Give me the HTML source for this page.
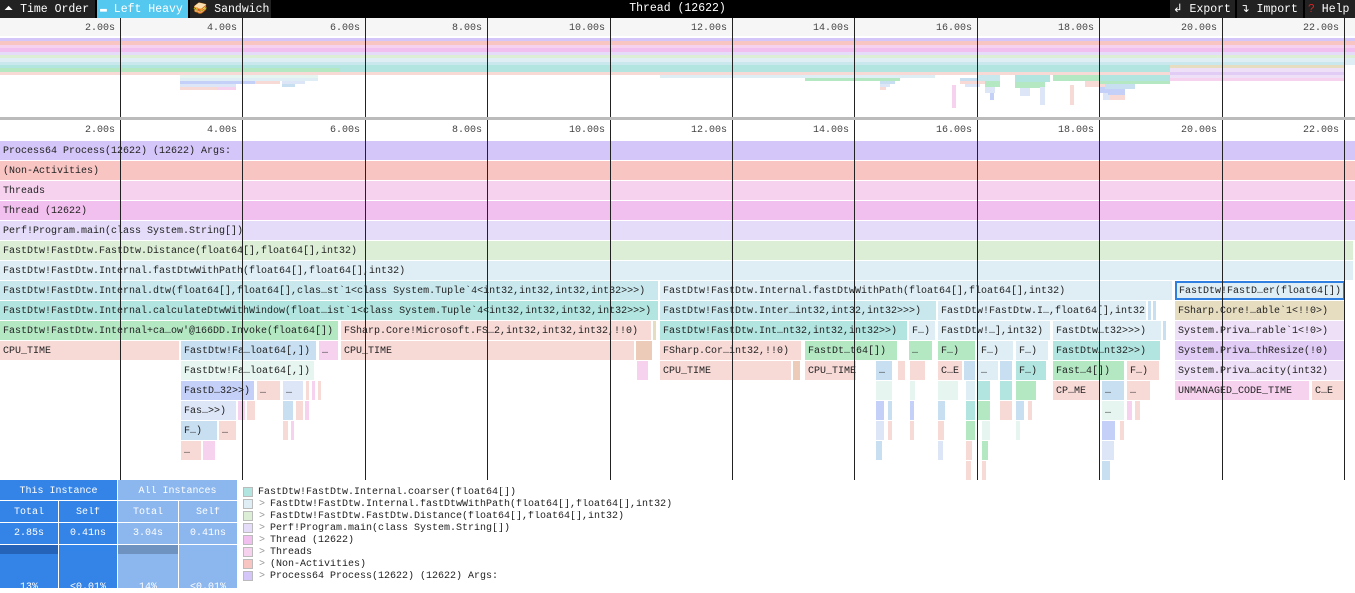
<!DOCTYPE html>
<html><head><meta charset="utf-8">
<style>
*{margin:0;padding:0;box-sizing:border-box}
body{width:1355px;height:588px;overflow:hidden;background:#fff;font-family:"Liberation Mono",monospace;font-size:10px;position:relative}
.a{position:absolute;white-space:nowrap;overflow:hidden}
.r{position:absolute;height:19px;line-height:22px;padding-left:3px;color:#222;white-space:nowrap;overflow:hidden}
.m{position:absolute}
.vl{position:absolute;width:1px;background:#222}
.tl{position:absolute;color:#444;text-align:right;width:60px}
.tab{position:absolute;top:0;height:18px;line-height:20px;color:#fff;font-size:11.5px;background:#222}
</style></head><body>
<div class="a" style="left:0;top:0;width:1355px;height:18px;background:#000"></div>
<div class="tab" style="left:0;width:95px;padding-left:4px">⏶ Time Order</div>
<div class="tab" style="left:97px;width:91px;background:#55c8f0;padding-left:3px">▬ Left Heavy</div>
<div class="tab" style="left:190px;width:81px;padding-left:3px">🥪 Sandwich</div>
<div class="a" style="left:0;top:0;width:1355px;text-align:center;color:#fff;font-size:11.5px;line-height:18px">Thread (12622)</div>
<div class="tab" style="left:1170px;width:65px;padding-left:3px">↲ Export</div>
<div class="tab" style="left:1237px;width:66px;padding-left:3px">↴ Import</div>
<div class="tab" style="left:1305px;width:50px;padding-left:3px"><span style="color:#d22">?</span> Help</div>
<div class="a" style="left:0;top:18px;width:1355px;height:18px;background:#f6f6f6"></div>
<div class="a" style="left:0;top:117px;width:1355px;height:3px;background:#bbb"></div>
<div id="c"></div>
<div class="a" style="left:0;top:480px;width:118px;height:108px;background:#3483e6"></div>
<div class="a" style="left:118px;top:480px;width:120px;height:108px;background:#8cb6ee"></div>
<div class="a" style="left:0;top:544px;width:58px;height:10px;background:#2463b8"></div>
<div class="a" style="left:118px;top:544px;width:60px;height:10px;background:#6f93c0"></div>
<div class="a" style="left:0;top:500px;width:238px;height:1px;background:#fff"></div>
<div class="a" style="left:0;top:522px;width:238px;height:1px;background:#fff"></div>
<div class="a" style="left:0;top:544px;width:238px;height:1px;background:#fff"></div>
<div class="a" style="left:117px;top:480px;width:1px;height:108px;background:#fff"></div>
<div class="a" style="left:58px;top:500px;width:1px;height:88px;background:#fff"></div>
<div class="a" style="left:178px;top:500px;width:1px;height:88px;background:#fff"></div>
<div class="a" style="left:237px;top:480px;width:1px;height:108px;background:#fff"></div>
<div id="b"></div>
<script>
var c=document.getElementById('c'),h='';
function R(x1,x2,row,col,t,extra){var y=141+row*20;h+='<div class="r" style="left:'+x1+'px;top:'+y+'px;width:'+(x2-x1)+'px;background:'+col+';'+(extra||'')+'">'+(t||'')+'</div>';}
function M(x1,x2,y1,y2,col){h+='<div class="m" style="left:'+x1+'px;top:'+y1+'px;width:'+(x2-x1)+'px;height:'+(y2-y1)+'px;background:'+col+'"></div>';}
var P='#d4c6f8',NA='#f8c5c3',TS='#f6d2ee',TH='#f2c0ee',PF='#e4dcf8',DI='#dcefd6',FP='#dfeef5',DT='#c9e8ee',CA='#b2e5e0',IN='#b3e8c3',CP='#f7d9d6',BL='#c8dff2',LV='#c4d0f7',LB='#dde6f7',WT='#e6f5f0',TN='#e6dcc0',PL='#ede0f7',PU='#e0ccf5',OR='#eccbb8';
var mb=[P,NA,TS,TH,PF,DI,FP];var y=38;
for(var i=0;i<mb.length;i++){M(0,1355,y,y+3.4,mb[i]);y+=3.4;}
M(0,1355,61.8,65,FP);M(0,1170,61.8,65,DT);M(0,1170,65,68.4,CA);M(0,340,68.4,71.6,IN);M(340,1170,68.4,71.6,CA);M(0,1170,71.6,75,CP);
M(1170,1345,61.8,65,DT);M(1170,1345,65,68.4,TN);M(1170,1345,68.4,71.6,PL);M(1170,1345,71.6,75,PU);M(1170,1345,75,78,PL);M(1170,1345,78,81,TS);
M(180,318,75,78,WT);M(180,318,78,81,FP);M(180,255,81,84,LV);M(255,280,81,84,CP);M(180,236,84,87,LB);M(180,217,87,90,CP);M(217,236,87,90,TS);
M(282,305,81,84,LB);M(282,295,84,87,BL);
M(660,935,75,78,FP);M(805,900,78,81,IN);M(880,895,81,84,BL);M(880,890,84,87,LB);M(880,886,87,90,CP);M(960,985,78,81,BL);M(960,985,81,84,CP);M(965,980,84,87,LB);
M(977,1000,75,81,DT);M(985,1000,81,87,IN);M(985,995,87,93,LB);M(990,994,93,100,LV);
M(1015,1050,75,82,CA);M(1015,1045,82,88,IN);M(1020,1030,88,96,LB);
M(1053,1125,75,81,IN);M(1085,1105,81,87,CP);M(1100,1115,87,93,LV);M(1103,1110,93,100,LB);
M(1100,1170,75,81,CA);M(1100,1170,81,84,IN);
M(1105,1135,84,89,BL);M(1108,1125,89,95,LV);M(1110,1125,95,100,CP);
M(1040,1045,87,105,LB);M(1070,1074,85,105,CP);M(952,956,85,108,TS);
R(0,1355,0,P,'Process64 Process(12622) (12622) Args:');
R(0,1355,1,NA,'(Non-Activities)');
R(0,1355,2,TS,'Threads');
R(0,1355,3,TH,'Thread (12622)');
R(0,1355,4,PF,'Perf!Program.main(class System.String[])');
R(0,1353,5,DI,'FastDtw!FastDtw.FastDtw.Distance(float64[],float64[],int32)');
R(0,1353,6,FP,'FastDtw!FastDtw.Internal.fastDtwWithPath(float64[],float64[],int32)');
R(0,658,7,DT,'FastDtw!FastDtw.Internal.dtw(float64[],float64[],clas…st`1&lt;class System.Tuple`4&lt;int32,int32,int32,int32&gt;&gt;&gt;)');
R(660,1172,7,FP,'FastDtw!FastDtw.Internal.fastDtwWithPath(float64[],float64[],int32)');
R(1175,1345,7,FP,'FastDtw!FastD…er(float64[])','border:2px solid #2f7fe0;line-height:18px;padding-left:2px');
R(0,658,8,CA,'FastDtw!FastDtw.Internal.calculateDtwWithWindow(float…ist`1&lt;class System.Tuple`4&lt;int32,int32,int32,int32&gt;&gt;&gt;)');
R(660,936,8,DT,'FastDtw!FastDtw.Inter…int32,int32,int32&gt;&gt;&gt;)');
R(938,1146,8,FP,'FastDtw!FastDtw.I…,float64[],int32)');
R(1148,1151,8,BL);R(1153,1156,8,BL);
R(1175,1345,8,TN,'FSharp.Core!…able`1&lt;!!0&gt;)');
R(0,338,9,IN,'FastDtw!FastDtw.Internal+ca…ow\'@166DD.Invoke(float64[])');
R(341,651,9,CP,'FSharp.Core!Microsoft.FS…2,int32,int32,int32,!!0)');
R(653,655,9,TN);
R(660,907,9,CA,'FastDtw!FastDtw.Int…nt32,int32,int32&gt;&gt;)');
R(909,935,9,FP,'F…)');
R(938,1050,9,FP,'FastDtw!…],int32)');
R(1053,1161,9,FP,'FastDtw…t32&gt;&gt;&gt;)');
R(1163,1166,9,BL);
R(1175,1345,9,PL,'System.Priva…rable`1&lt;!0&gt;)');
R(0,179,10,CP,'CPU_TIME');
R(181,316,10,BL,'FastDtw!Fa…loat64[,])');
R(319,338,10,TS,'…');
R(341,634,10,CP,'CPU_TIME');
R(636,652,10,OR);
R(660,801,10,CP,'FSharp.Cor…int32,!!0)');
R(805,897,10,IN,'FastDt…t64[])');
R(909,932,10,IN,'…');
R(938,975,10,IN,'F…)');
R(978,1013,10,FP,'F…)');
R(1016,1048,10,FP,'F…)');
R(1053,1160,10,CA,'FastDtw…nt32&gt;&gt;)');
R(1175,1345,10,PU,'System.Priva…thResize(!0)');
R(181,314,11,WT,'FastDtw!Fa…loat64[,])');
R(637,648,11,TS);
R(660,791,11,CP,'CPU_TIME');R(793,800,11,OR);
R(805,856,11,CP,'CPU_TIME');
R(876,892,11,BL,'…');R(898,905,11,CP);
R(910,925,11,CP);R(938,962,11,CP,'C…E');R(964,975,11,BL);
R(978,998,11,FP,'…');R(1000,1012,11,BL);
R(1016,1046,11,CA,'F…)');
R(1053,1124,11,IN,'Fast…4[])');
R(1127,1159,11,CP,'F…)');
R(1175,1345,11,PL,'System.Priva…acity(int32)');
R(181,254,12,LV,'FastD…32&gt;&gt;)');
R(257,280,12,CP,'…');
R(283,303,12,LB,'…');R(306,309,12,CP);R(312,315,12,TS);R(318,320,12,CP);
R(876,892,12,WT);R(910,915,12,WT);R(938,958,12,WT);R(966,975,12,FP);R(978,990,12,CA);R(1000,1012,12,CA);R(1016,1036,12,IN);
R(1053,1100,12,CP,'CP…ME');
R(1102,1124,12,BL,'…');
R(1127,1150,12,CP,'…');
R(1175,1309,12,TS,'UNMANAGED_CODE_TIME');
R(1312,1345,12,CP,'C…E');
R(181,236,13,LB,'Fas…&gt;&gt;)');R(238,245,13,TS);R(247,255,13,CP);
R(283,293,13,BL);R(296,303,13,CP);R(305,309,13,TS);
R(876,884,13,LV);R(888,892,13,BL);R(910,914,13,LV);R(938,945,13,BL);R(966,975,13,CA);R(978,990,13,IN);R(1000,1012,13,CP);R(1016,1024,13,BL);R(1028,1032,13,CP);
R(1102,1124,13,WT,'…');R(1127,1132,13,TS);R(1135,1140,13,CP);
R(181,217,14,BL,'F…)');R(219,236,14,CP,'…');R(283,288,14,CP);R(291,294,14,TS);
R(876,884,14,LB);R(888,892,14,CP);R(910,914,14,CP);R(938,944,14,CP);R(966,975,14,IN);R(982,990,14,WT);R(1016,1020,14,WT);R(1102,1115,14,LV);R(1120,1124,14,CP);
R(181,201,15,CP,'…');R(203,215,15,TS);
R(876,882,15,BL);R(938,943,15,LB);R(966,972,15,CP);R(982,988,15,IN);R(1102,1114,15,LB);
R(966,971,16,CP);R(982,986,16,CP);R(1102,1110,16,BL);
var gx=[120,242,365,487,610,732,854,977,1099,1222,1344],lab=['2.00s','4.00s','6.00s','8.00s','10.00s','12.00s','14.00s','16.00s','18.00s','20.00s','22.00s'];
for(var i=0;i<gx.length;i++){
 h+='<div class="vl" style="left:'+gx[i]+'px;top:18px;height:99px"></div>';
 h+='<div class="vl" style="left:'+gx[i]+'px;top:120px;height:360px"></div>';
 h+='<div class="tl" style="left:'+(gx[i]-65)+'px;top:23px">'+lab[i]+'</div>';
 h+='<div class="tl" style="left:'+(gx[i]-65)+'px;top:125px">'+lab[i]+'</div>';
}
c.innerHTML=h;
var b='',W='color:#fff;text-align:center;';
function T(x,w,y,t,s){b+='<div class="a" style="'+W+'left:'+x+'px;width:'+w+'px;top:'+y+'px;'+(s||'')+'">'+t+'</div>';}
T(0,117,486,'This Instance');T(118,119,486,'All Instances');
T(0,58,507,'Total');T(59,58,507,'Self');T(118,60,507,'Total');T(179,58,507,'Self');
T(0,58,528,'2.85s');T(59,58,528,'0.41ns');T(118,60,528,'3.04s');T(179,58,528,'0.41ns');
T(0,58,582,'13%');T(59,58,582,'&lt;0.01%');T(118,60,582,'14%');T(179,58,582,'&lt;0.01%');
var L=[[CA,'FastDtw!FastDtw.Internal.coarser(float64[])',0],[FP,'FastDtw!FastDtw.Internal.fastDtwWithPath(float64[],float64[],int32)',1],[DI,'FastDtw!FastDtw.FastDtw.Distance(float64[],float64[],int32)',1],[PF,'Perf!Program.main(class System.String[])',1],[TH,'Thread (12622)',1],[TS,'Threads',1],[NA,'(Non-Activities)',1],[P,'Process64 Process(12622) (12622) Args:',1]];
for(var i=0;i<L.length;i++){var y=487+i*12;
 b+='<div class="a" style="left:243px;top:'+y+'px;width:10px;height:10px;background:'+L[i][0]+';border:1px solid #bbb"></div>';
 if(L[i][2])b+='<div class="a" style="left:259px;top:'+(y)+'px;color:#999">&gt;</div>';
 b+='<div class="a" style="left:'+(L[i][2]?270:258)+'px;top:'+(y)+'px;color:#222">'+L[i][1]+'</div>';}
document.getElementById('b').innerHTML=b;
</script>
</body></html>
